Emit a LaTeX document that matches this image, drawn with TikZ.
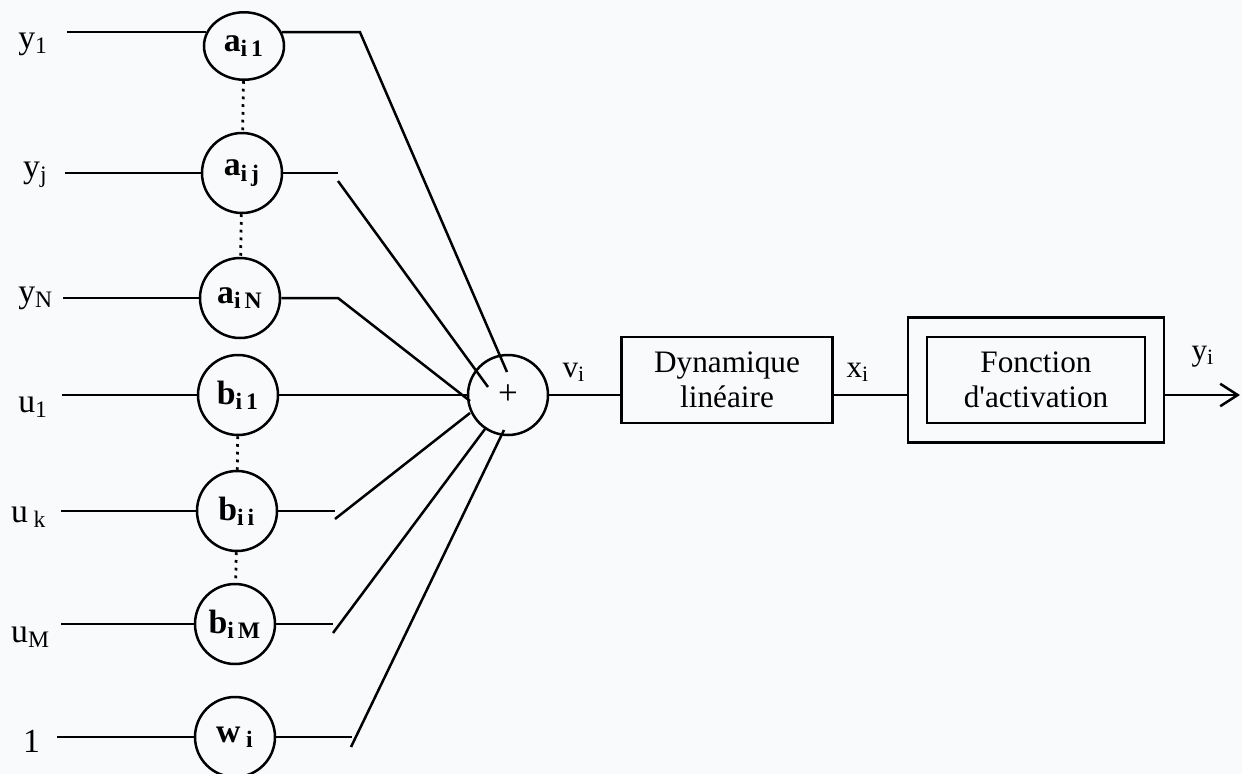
\documentclass[tikz,border=0pt]{standalone}
\usepackage{fontspec}
\setmainfont{Liberation Serif}
\usetikzlibrary{arrows.meta,shapes.geometric}

\newcommand\lblfont{\fontsize{13.5}{16}\selectfont}
\newcommand\boxfont{\fontsize{12.5}{14}\selectfont}

\begin{document}
\begin{tikzpicture}[x=0.4pt,y=-0.4pt,line width=1pt,
  wt/.style={circle,draw,minimum size=32pt,inner sep=0pt,font=\lblfont\bfseries},
  lbl/.style={anchor=base west,inner sep=0pt,font=\lblfont},
  sig/.style={anchor=base,inner sep=0pt,font=\boxfont},
  blk/.style={draw,minimum height=34.4pt,align=center,font=\boxfont},
  dots/.style={dotted,line width=1.1pt}]
  \definecolor{paper}{RGB}{249,250,252}
  \fill[paper] (0,0) rectangle (1242,774);
  \useasboundingbox (0,0) rectangle (1242,774);
  \clip (0,0) rectangle (1242,774);

  % weights
  \node[wt,ellipse,minimum height=27pt] (a1) at (244,46) {a\textsubscript{i\,1}};
  \node[wt] (aj) at (242,173) {a\textsubscript{i\,j}};
  \node[wt] (aN) at (240,298) {a\textsubscript{i\,N}};
  \node[wt] (b1) at (238,395) {b\textsubscript{i\,1}};
  \node[wt] (bi) at (237,511) {b\textsubscript{i\,i}};
  \node[wt] (bM) at (235,624) {b\textsubscript{i\,M}};
  \node[wt] (w) at (235,737) {w\,\textsubscript{i}};
  \draw[dots] (a1) -- (aj);
  \draw[dots] (aj) -- (aN);
  \draw[dots] (b1) -- (bi);
  \draw[dots] (bi) -- (bM);

  % inputs
  \node[lbl] (ly1) at (17,48) {y\textsubscript{1}};
  \node[lbl] (lyj) at (22,177) {y\textsubscript{j}};
  \node[lbl] (lyN) at (17,302) {y\textsubscript{N}};
  \node[lbl] (lu1) at (17,412) {u\textsubscript{1}};
  \node[lbl] (luk) at (10,522) {u\,\textsubscript{k}};
  \node[lbl] (luM) at (10,642) {u\textsubscript{M}};
  \node[lbl] (lone) at (22,752) {1};
  \coordinate (s1) at (a1.160 -| 67,0);
  \coordinate (sj) at (65,173);
  \coordinate (sN) at (63,298);
  \coordinate (su1) at (62,395);
  \coordinate (suk) at (61,511);
  \coordinate (suM) at (61,624);
  \coordinate (sw) at (57,737);
  \draw (s1) -- (a1.160);
  \draw (sj) -- (aj);
  \draw (sN) -- (aN);
  \draw (su1) -- (b1);
  \draw (suk) -- (bi);
  \draw (suM) -- (bM);
  \draw (sw) -- (w);

  % summing junction
  \node[wt,font=\fontsize{14}{16}\selectfont] (sum) at (508,395) {+};
  \coordinate (h1) at (a1.20 -| 360,0);
  \coordinate (e1) at (507,372);
  \draw (a1.20) -- (h1) -- (e1);
  \coordinate (hj) at (338,173);
  \coordinate (gj) at (338,181);
  \coordinate (ej) at (488,387);
  \draw (aj) -- (hj);
  \draw (gj) -- (ej);
  \coordinate (hN) at (338,298);
  \coordinate (eN) at (470,401);
  \draw (aN) -- (hN) -- (eN);
  \draw (b1) -- (sum);
  \coordinate (hi) at (335,511);
  \coordinate (gi) at (335,519);
  \coordinate (ei) at (470,413);
  \draw (bi) -- (hi);
  \draw (gi) -- (ei);
  \coordinate (hM) at (333,624);
  \coordinate (gM) at (333,633);
  \coordinate (eM) at (485,429);
  \draw (bM) -- (hM);
  \draw (gM) -- (eM);
  \coordinate (hw) at (352,737);
  \coordinate (gw) at (351,747);
  \coordinate (ew) at (504,430);
  \draw (w) -- (hw);
  \draw (gw) -- (ew);

  % neuron output chain
  \node[blk,minimum width=84.4pt] (dyn) at (727,380) {Dynamique\\linéaire};
  \node[draw,minimum width=102.4pt,minimum height=50pt] (outer) at (1036,380) {};
  \node[blk,minimum width=87.2pt] (act) at (1036,380) {Fonction\\d\textquotesingle activation};
  \coordinate (out) at (1240,395);
  \draw (sum) -- (sum -| dyn.west);
  \draw (sum -| dyn.east) -- (sum -| outer.west);
  \draw[-{Straight Barb[length=7pt,width=9pt]}] (sum -| outer.east) -- (out);
  \node[sig] (lv) at (574,377) {v\textsubscript{i}};
  \node[sig] (lx) at (858,377) {x\textsubscript{i}};
  \node[sig] (ly) at (1203,360) {y\textsubscript{i}};
\end{tikzpicture}
\end{document}
